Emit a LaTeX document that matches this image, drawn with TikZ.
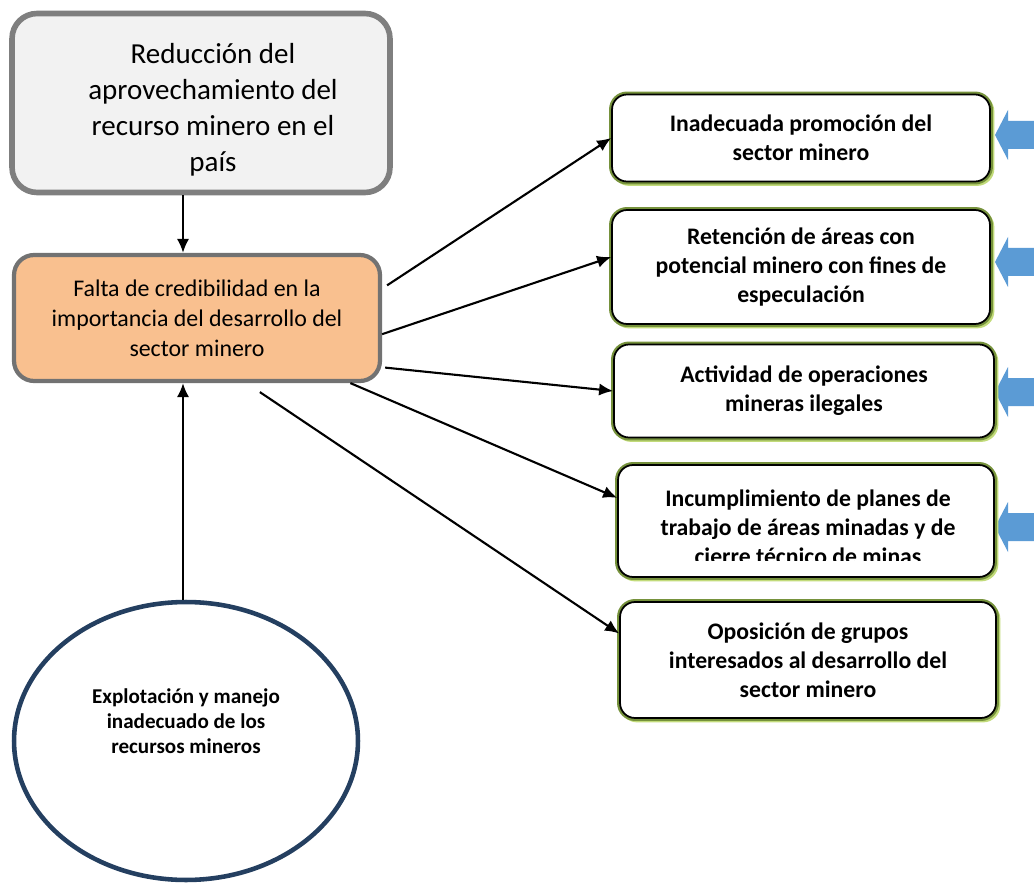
\documentclass[tikz,border=0pt]{standalone}
\usepackage{fontspec}
\setmainfont{Carlito}
\usepackage{tikz}
\usetikzlibrary{arrows.meta, positioning, calc, shapes.geometric}
\definecolor{greybox}{HTML}{F2F2F2}
\definecolor{greyline}{HTML}{7F7F7F}
\definecolor{orange}{HTML}{F9C08F}
\definecolor{olive}{HTML}{76923C}
\definecolor{lgreen}{HTML}{C2DB7A}
\definecolor{navy}{HTML}{243F60}
\definecolor{arrowblue}{HTML}{5B9BD5}

\begin{document}
\begin{tikzpicture}[x=0.02cm, y=-0.02cm,
    effect/.style={rectangle, rounded corners=0.5cm, draw=greyline, line width=3.2pt, fill=greybox, minimum width=7.56cm, minimum height=3.58cm},
    problem/.style={rectangle, rounded corners=0.4cm, draw=greyline!90!black, line width=2.4pt, fill=orange, minimum width=7.32cm, minimum height=2.52cm, align=center, font=\fontsize{13.6}{17}\selectfont},
    cause/.style={rectangle, rounded corners=0.3cm, align=center, font=\bfseries\fontsize{13.5}{16.4}\selectfont,
        preaction={draw=lgreen, line width=2.6pt, transform canvas={shift={(1.2pt,-1.2pt)}}},
        preaction={draw=olive, line width=3.4pt},
        draw=black, line width=1pt, fill=white},
    root/.style={ellipse, draw=navy, line width=2.6pt, minimum width=6.88cm, minimum height=5.56cm},
    link/.style={-{Latex[length=8pt, width=7pt]}, line width=1.2pt},
]
    \useasboundingbox (0,0) rectangle (1034,888);
    % Blue arrows on the right edge
    \foreach \y in {135,262,392,527} {
        \fill[arrowblue] (995,\y) -- (1008,\y-25) -- (1008,\y-14) -- (1040,\y-14) -- (1040,\y+14) -- (1008,\y+14) -- (1008,\y+25) -- cycle;
    }
    % Effect and central problem
    \node[effect] (reduccion) at (201,103) {};
    \node[align=center, font=\fontsize{16.5}{20.4}\selectfont] (reducciontxt) at (213,110) {Reducción del\\aprovechamiento del\\recurso minero en el\\país};
    \node[problem] (falta) at (197,318) {Falta de credibilidad en la\\importancia del desarrollo del\\sector minero};
    % Root cause
    \node[root] (explotacion) at (186,741) {};
    \node[font=\bfseries\fontsize{12}{14.4}\selectfont, align=center] (explotaciontxt) at (186,721) {Explotación y manejo\\inadecuado de los\\recursos mineros};
    % Causes
    \node[cause, minimum width=7.56cm, minimum height=1.74cm] (promocion) at (801,138) {Inadecuada promoción del\\sector minero};
    \node[cause, minimum width=7.56cm, minimum height=2.28cm] (retencion) at (801,267) {Retención de áreas con\\potencial minero con fines de\\especulación};
    \node[cause, minimum width=7.6cm, minimum height=1.86cm] (ilegales) at (804,391) {Actividad de operaciones\\mineras ilegales};
    \node[cause, minimum width=7.52cm, minimum height=2.24cm] (planes) at (806,521) {};
    \begin{scope}
        \clip (620,470) rectangle (990,560);
        \node[font=\bfseries\fontsize{13.5}{16.4}\selectfont, align=center] (planestxt) at (808,527) {Incumplimiento de planes de\\trabajo de áreas minadas y de\\cierre técnico de minas};
    \end{scope}
    \node[cause, minimum width=7.52cm, minimum height=2.32cm] (oposicion) at (808,660) {Oposición de grupos\\interesados al desarrollo del\\sector minero};
    % Connectors
    \draw[link] (reduccion.south -| 183,0) -- (falta.north -| 183,0);
    \draw[link] (explotacion.north -| 183,0) -- (falta.south -| 183,0);
    \draw[link] ([xshift=0.1cm]falta.10) -- (promocion.west);
    \draw[link] (falta.-5) -- (retencion.177);
    \draw[link] ([xshift=0.06cm]falta.-15) -- (ilegales.west);
    \draw[link] (falta.-23) -- (planes.173);
    \draw[link] ([yshift=-0.18cm]falta.-46) -- (oposicion.172);
\end{tikzpicture}
\end{document}
